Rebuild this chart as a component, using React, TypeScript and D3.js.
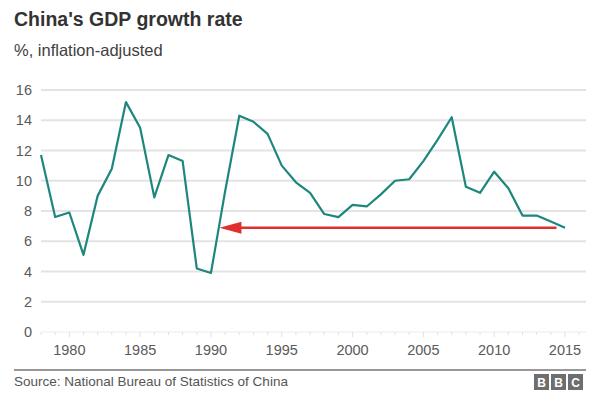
import React, { useEffect } from "react";
import * as d3 from "d3";

// --- Data ---
const years = [
  1978, 1979, 1980, 1981, 1982, 1983, 1984, 1985, 1986, 1987, 1988, 1989,
  1990, 1991, 1992, 1993, 1994, 1995, 1996, 1997, 1998, 1999, 2000, 2001,
  2002, 2003, 2004, 2005, 2006, 2007, 2008, 2009, 2010, 2011, 2012, 2013,
  2014, 2015,
];
const growth = [
  11.7, 7.6, 7.9, 5.1, 9.0, 10.8, 15.2, 13.5, 8.9, 11.7, 11.3, 4.2, 3.9, 9.3,
  14.3, 13.9, 13.1, 11.0, 9.9, 9.2, 7.8, 7.6, 8.4, 8.3, 9.1, 10.0, 10.1, 11.3,
  12.7, 14.2, 9.6, 9.2, 10.6, 9.5, 7.7, 7.7, 7.3, 6.9,
];
const yTicks = [0, 2, 4, 6, 8, 10, 12, 14, 16];
const xTicks = [1980, 1985, 1990, 1995, 2000, 2005, 2010, 2015];
// red arrow: from (year, value) to (year, value)
const arrowFrom = [2014.4, 6.9];
const arrowTo = [1990.6, 6.9];

const W = 600;
const H = 400;

const App: React.FC = () => {
  useEffect(() => {
    document.body.style.margin = "0";
  }, []);

  const x = d3.scaleLinear().domain([1978, 2015]).range([41, 565]);
  const y = d3.scaleLinear().domain([0, 16]).range([332, 90]);
  const gridRight = 586;

  const line = d3
    .line<number>()
    .x((_, i) => x(years[i]))
    .y((d) => y(d));

  const font = "'Liberation Sans', Arial, Helvetica, sans-serif";
  const allYears = d3.range(1978, 2017);

  const ax = x(arrowFrom[0]);
  const tipX = x(arrowTo[0]);
  const ay = y(arrowTo[1]);
  const headLen = 22;

  return (
    <svg width={W} height={H} style={{ display: "block", background: "#fff" }} fontFamily={font}>
      <text x={14} y={26} fontSize={19.5} fontWeight="bold" fill="#333">
        China's GDP growth rate
      </text>
      <text x={14} y={56} fontSize={16.5} fill="#404040">
        %, inflation-adjusted
      </text>

      {/* gridlines + y labels */}
      {yTicks.map((t) => (
        <g key={t}>
          <line x1={41} x2={gridRight} y1={y(t)} y2={y(t)} stroke={t === 0 ? "#ececec" : "#e3e3e3"} strokeWidth={t === 0 ? 1 : 2} />
          <text x={32} y={y(t)} dy="0.35em" textAnchor="end" fontSize={14.5} fill="#5a5a5a">
            {t}
          </text>
        </g>
      ))}

      {/* year ticks */}
      {allYears.map((yr) => (
        <line
          key={yr}
          x1={x(yr)}
          x2={x(yr)}
          y1={y(0)}
          y2={y(0) + (yr % 5 === 0 ? 5 : 3)}
          stroke="#e0e0e0"
          strokeWidth={1}
        />
      ))}
      {xTicks.map((t) => (
        <text key={t} x={x(t)} y={355} textAnchor="middle" fontSize={14.5} fill="#5a5a5a">
          {t}
        </text>
      ))}

      {/* series */}
      <path d={line(growth) ?? ""} fill="none" stroke="#1d877d" strokeWidth={2.2} strokeLinejoin="round" />

      {/* red arrow */}
      <line x1={ax} x2={tipX + headLen - 2} y1={ay} y2={ay} stroke="#e0302e" strokeWidth={2.5} />
      <path
        d={`M${tipX},${ay} L${tipX + headLen},${ay - 6} L${tipX + headLen},${ay + 6} Z`}
        fill="#e0302e"
      />

      {/* footer */}
      <line x1={14} x2={586} y1={370} y2={370} stroke="#333" strokeWidth={1.2} />
      <text x={14} y={386} fontSize={13.5} fill="#555">
        Source: National Bureau of Statistics of China
      </text>
      {["B", "B", "C"].map((c, i) => (
        <g key={i}>
          <rect x={534 + i * 17} y={374} width={15} height={16} fill="#6e6e6e" />
          <text x={534 + i * 17 + 7.5} y={386.5} textAnchor="middle" fontSize={12} fontWeight="bold" fill="#fff">
            {c}
          </text>
        </g>
      ))}
    </svg>
  );
};

export default App;
